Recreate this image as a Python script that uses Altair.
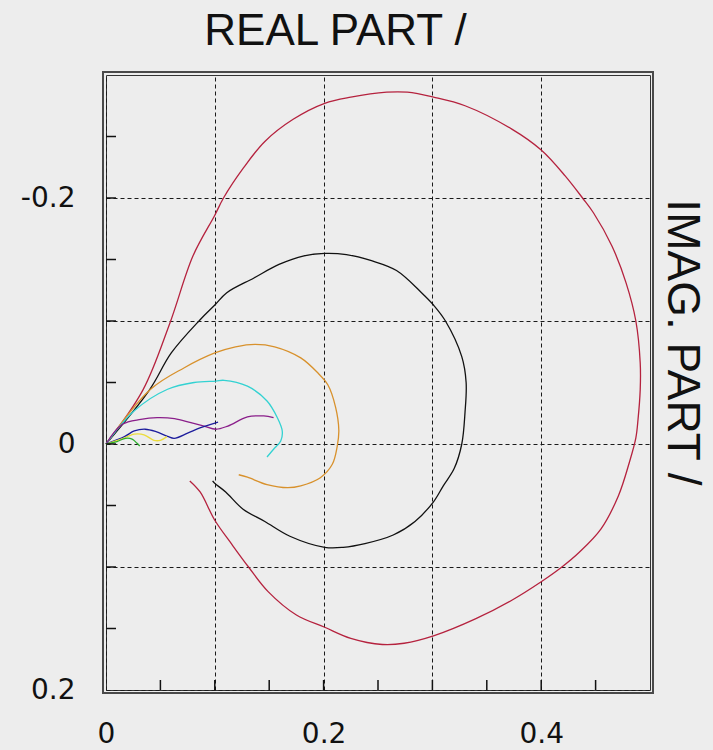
import altair as alt
import pandas as pd

# ---- Nyquist-type loci: real part / imaginary part of each response ----
red_re = [0, 0.034, 0.0586, 0.080, 0.100, 0.108, 0.126, 0.146, 0.172, 0.201, 0.225, 0.258, 0.277,
          0.301, 0.330, 0.373, 0.400, 0.422, 0.438, 0.448, 0.465, 0.478, 0.487, 0.491, 0.491, 0.489,
          0.487, 0.481, 0.471, 0.455, 0.435, 0.419, 0.400, 0.373, 0.340, 0.301, 0.274, 0.254, 0.225,
          0.201, 0.175, 0.149, 0.131, 0.116, 0.100, 0.0865, 0.077]
red_im = [0, -0.044, -0.098, -0.153, -0.186, -0.200, -0.224, -0.246, -0.264, -0.277, -0.282, -0.286,
          -0.286, -0.282, -0.275, -0.256, -0.239, -0.218, -0.200, -0.188, -0.161, -0.131, -0.100,
          -0.066, -0.044, -0.020, -0.005, 0.015, 0.042, 0.069, 0.088, 0.100, 0.112, 0.127, 0.142,
          0.156, 0.162, 0.163, 0.158, 0.149, 0.139, 0.120, 0.100, 0.082, 0.062, 0.039, 0.030]

black_re = [0, 0.040, 0.060, 0.0865, 0.100, 0.111, 0.136, 0.159, 0.182, 0.201, 0.221, 0.244, 0.267,
            0.290, 0.301, 0.312, 0.327, 0.331, 0.330, 0.327, 0.320, 0.310, 0.301, 0.284, 0.264,
            0.238, 0.218, 0.201, 0.169, 0.146, 0.126, 0.110, 0.100, 0.098]
black_im = [0, -0.044, -0.074, -0.101, -0.113, -0.123, -0.135, -0.146, -0.153, -0.155, -0.154,
            -0.149, -0.141, -0.123, -0.113, -0.100, -0.071, -0.050, -0.026, 0.000, 0.020, 0.034,
            0.047, 0.063, 0.074, 0.081, 0.084, 0.084, 0.075, 0.063, 0.053, 0.039, 0.032, 0.030]

orange_re = [0, 0.041, 0.072, 0.100, 0.119, 0.137, 0.155, 0.179, 0.195, 0.204, 0.211, 0.214,
             0.2125, 0.208, 0.197, 0.179, 0.167, 0.148, 0.130, 0.122]
orange_im = [0, -0.0445, -0.062, -0.074, -0.079, -0.081, -0.079, -0.070, -0.0575, -0.048, -0.030,
             -0.011, 0.002, 0.0165, 0.0274, 0.034, 0.0355, 0.033, 0.027, 0.025]

cyan_re = [0, 0.026, 0.0566, 0.081, 0.101, 0.1085, 0.130, 0.148, 0.1575, 0.162, 0.1606, 0.154, 0.148]
cyan_im = [0, -0.027, -0.0445, -0.050, -0.0512, -0.0518, -0.047, -0.035, -0.0214, -0.0106,
           -0.0024, 0.0043, 0.0106]

purple_re = [0, 0.015, 0.032, 0.047, 0.063, 0.078, 0.090, 0.101, 0.112, 0.130, 0.145, 0.154]
purple_im = [0, -0.016, -0.020, -0.0214, -0.0206, -0.0173, -0.0146, -0.012, -0.0146, -0.022,
             -0.0228, -0.0214]

blue_re = [0, 0.017, 0.026, 0.036, 0.046, 0.0566, 0.0627, 0.075, 0.087, 0.103]
blue_im = [0, -0.006, -0.0106, -0.012, -0.0100, -0.0062, -0.0046, -0.0088, -0.0133, -0.0178]

yellow_re = [0, 0.014, 0.026, 0.035, 0.044, 0.050, 0.056]
yellow_im = [0, -0.004, -0.008, -0.0075, -0.003, -0.003, -0.006]

green_re = [0, 0.010, 0.018, 0.024, 0.028, 0.031]
green_im = [0, -0.002, -0.0046, -0.004, -0.001, 0.0016]

curve_names = ["red", "black", "orange", "cyan", "purple", "blue", "yellow", "green"]
curve_colors = ["#b5223e", "#111111", "#d8912c", "#33d2d2", "#8a1e8a", "#1c1c9c", "#ecdc3c", "#2eae2e"]

# axis ticks and grid positions
x_grid = [0, 0.1, 0.2, 0.3, 0.4]
y_grid = [-0.2, -0.1, 0, 0.1, 0.2]
x_minor = [0.05, 0.1, 0.15, 0.2, 0.25, 0.3, 0.35, 0.4, 0.45]
y_minor = [-0.25, -0.2, -0.15, -0.1, -0.05, 0, 0.05, 0.1, 0.15]

series = [
    ("red", red_re, red_im), ("black", black_re, black_im), ("orange", orange_re, orange_im),
    ("cyan", cyan_re, cyan_im), ("purple", purple_re, purple_im), ("blue", blue_re, blue_im),
    ("yellow", yellow_re, yellow_im), ("green", green_re, green_im),
]
rows = []
for name, xs, ys in series:
    for i, (a, b) in enumerate(zip(xs, ys)):
        rows.append({"curve": name, "i": i, "re": a, "im": b})
curves = pd.DataFrame(rows)

W, H = 544, 615
BG = "#ededed"

x_scale = alt.Scale(domain=[0, 0.5], nice=False, zero=False)
y_scale = alt.Scale(domain=[-0.3, 0.2], nice=False, zero=False, reverse=True)

x_axis = alt.Axis(
    values=x_grid,
    labelExpr="(abs(datum.value) < 1e-9 || abs(datum.value - 0.2) < 1e-9 || abs(datum.value - 0.4) < 1e-9) ? toString(datum.value) : ''",
    grid=True, gridDash=[4, 3], gridColor="#1a1a1a", gridWidth=1,
    domain=False, ticks=False, tickSize=0,
    labelFont="DejaVu Sans", labelFontSize=28, labelColor="#111111", labelPadding=30,
    labelFlush=False, labelOverlap=False,
    title="REAL PART /", titleFont="Liberation Sans", titleFontSize=44, titleFontWeight="normal",
    titleColor="#111111", titleX=229, titleY=44 - (75 + H), titleAlign="center",
    titleBaseline="alphabetic", titleAngle=0,
)
y_axis = alt.Axis(
    values=y_grid,
    labelExpr="(abs(datum.value) < 1e-9 || abs(abs(datum.value) - 0.2) < 1e-9) ? toString(datum.value) : ''",
    grid=True, gridDash=[4, 3], gridColor="#1a1a1a", gridWidth=1,
    domain=False, ticks=False, tickSize=0,
    labelFont="DejaVu Sans", labelFontSize=28, labelColor="#111111", labelPadding=31,
    labelFlush=False, labelOverlap=False,
    title="IMAG. PART /", titleFont="Liberation Sans", titleFontSize=46, titleFontWeight="normal",
    titleColor="#111111", titleX=561, titleY=267, titleAlign="center",
    titleBaseline="alphabetic", titleAngle=90,
)

lines = alt.Chart(curves).mark_line(strokeWidth=1.3, interpolate="catmull-rom").encode(
    x=alt.X("re:Q", scale=x_scale, axis=x_axis),
    y=alt.Y("im:Q", scale=y_scale, axis=y_axis),
    color=alt.Color("curve:N", scale=alt.Scale(domain=curve_names, range=curve_colors), legend=None),
    detail="curve:N",
    order=alt.Order("i:Q"),
)

# inward tick marks along the bottom and left edges
bottom_ticks = alt.Chart(pd.DataFrame({"re": x_minor})).mark_rule(color="#111111", strokeWidth=1.5).encode(
    x=alt.X("re:Q", scale=x_scale, axis=x_axis),
    y=alt.value(H - 10), y2=alt.value(H),
)
left_ticks = alt.Chart(pd.DataFrame({"im": y_minor})).mark_rule(color="#111111", strokeWidth=1.5).encode(
    y=alt.Y("im:Q", scale=y_scale, axis=y_axis),
    x=alt.value(0), x2=alt.value(10),
)

# outer line of the double frame around the plot
outer_frame = alt.Chart(pd.DataFrame({"k": [0]})).mark_rect(
    filled=False, stroke="#4a4a4a", strokeWidth=2
).encode(
    x=alt.value(-3), x2=alt.value(W + 3), y=alt.value(-3), y2=alt.value(H + 3),
)

chart = alt.layer(lines, bottom_ticks, left_ticks, outer_frame).properties(
    width=W, height=H,
    padding={"left": 106, "top": 75, "right": 713 - 106 - W, "bottom": 750 - 75 - H},
    autosize=alt.AutoSizeParams(type="none"),
    background=BG,
).configure_view(
    stroke="#333333", strokeWidth=1, fill=BG,
)

chart.save("out.html", embed_options={"renderer": "svg", "actions": False})
